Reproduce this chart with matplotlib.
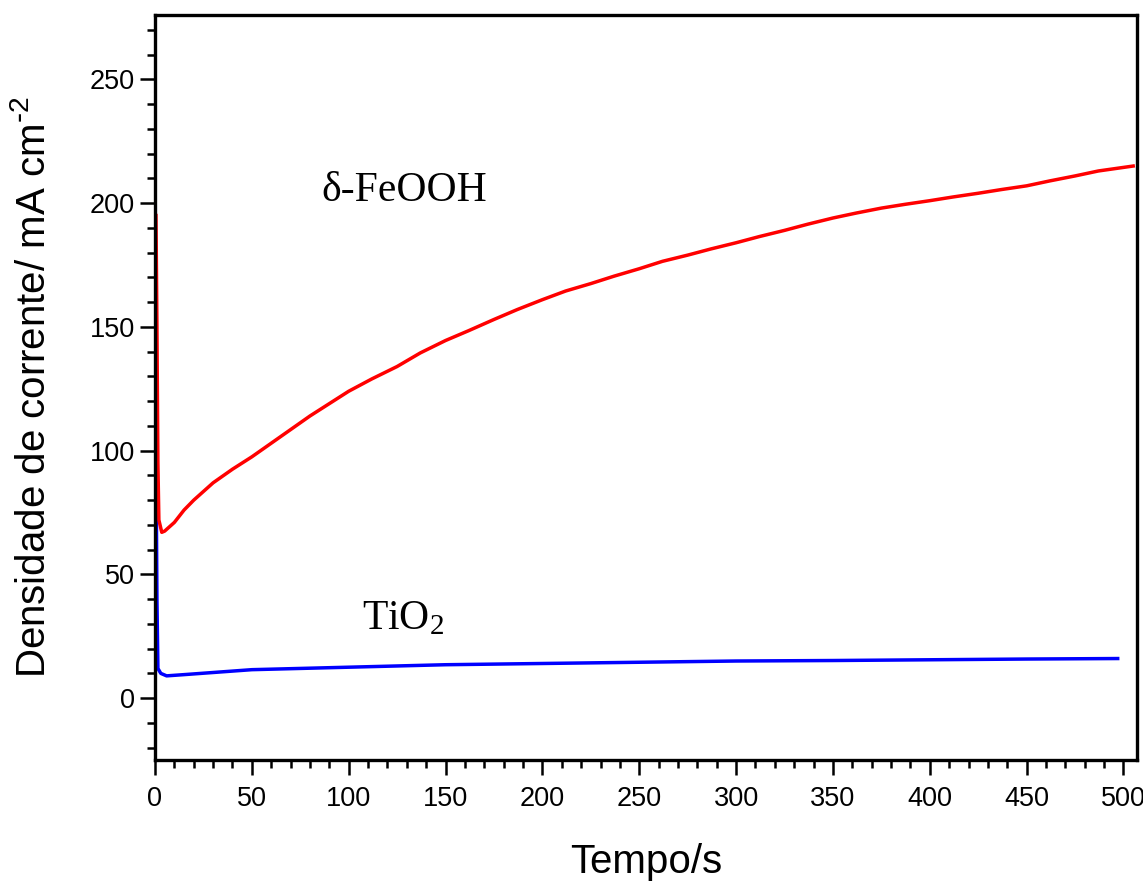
import numpy as np
import matplotlib
matplotlib.use("Agg")
import matplotlib.pyplot as plt
from matplotlib.ticker import MultipleLocator

# delta-FeOOH curve (time in s, current density in mA cm-2)
t_feooh = [0.5, 1, 1.5, 2, 3.5, 5, 10, 15, 20, 25, 30, 40, 50, 60, 70, 80, 90, 100,
           112, 125, 137, 150, 162, 175, 187, 200, 212, 225, 237, 250, 262, 275, 287,
           300, 312, 325, 337, 350, 362, 375, 387, 400, 412, 425, 437, 450, 462, 475,
           487, 505]
j_feooh = [195, 150, 95, 72, 67, 67.5, 71, 76, 80, 83.5, 87, 92.5, 97.5, 103, 108.5,
           114, 119, 124, 129, 134, 139.5, 144.5, 148.5, 153, 157, 161, 164.5, 167.5,
           170.5, 173.5, 176.5, 179, 181.5, 184, 186.5, 189, 191.5, 194, 196, 198,
           199.5, 201, 202.5, 204, 205.5, 207, 209, 211, 213, 215]

# TiO2 curve
t_tio2 = [0, 0.5, 1, 1.5, 3, 6, 15, 50, 100, 150, 200, 250, 300, 350, 400, 450, 497]
j_tio2 = [240, 100, 40, 12, 10, 9, 9.5, 11.5, 12.5, 13.5, 14, 14.5, 15, 15.2, 15.5, 15.8, 16]

plt.rcParams['font.family'] = ['Liberation Sans', 'DejaVu Sans']
plt.rcParams['mathtext.default'] = 'regular'

fig = plt.figure(figsize=(11.43, 8.86), dpi=100)
ax = fig.add_axes([0.1356, 0.1422, 0.8592, 0.8408])

ax.plot(t_tio2, j_tio2, color='#0000ff', lw=2.5)
ax.plot(t_feooh, j_feooh, color='#ff0000', lw=2.5)

ax.set_xlim(0, 507)
ax.set_ylim(-25, 276)
ax.xaxis.set_major_locator(MultipleLocator(50))
ax.xaxis.set_minor_locator(MultipleLocator(10))
ax.yaxis.set_major_locator(MultipleLocator(50))
ax.yaxis.set_minor_locator(MultipleLocator(10))

for s in ax.spines.values():
    s.set_linewidth(2.4)
ax.tick_params(which='major', direction='out', length=11, width=1.8, labelsize=19.5)
ax.tick_params(axis='x', which='major', pad=8)
ax.tick_params(which='minor', direction='out', length=5.5, width=1.8)
ax.tick_params(top=False, right=False, which='both')

ax.set_xlabel('Tempo/s', fontsize=29, labelpad=22)
ax.set_ylabel(r'Densidade de corrente/ mA cm$^{\text{-}2}$', fontsize=29, labelpad=26)

ax.text(86, 205, 'δ-FeOOH', fontsize=30, family=['Liberation Serif', 'DejaVu Serif'],
        va='center', ha='left')
ax.text(107, 32, 'TiO$_2$', fontsize=30, family=['Liberation Serif', 'DejaVu Serif'],
        va='center', ha='left')

fig.savefig('out.png', dpi=100)
